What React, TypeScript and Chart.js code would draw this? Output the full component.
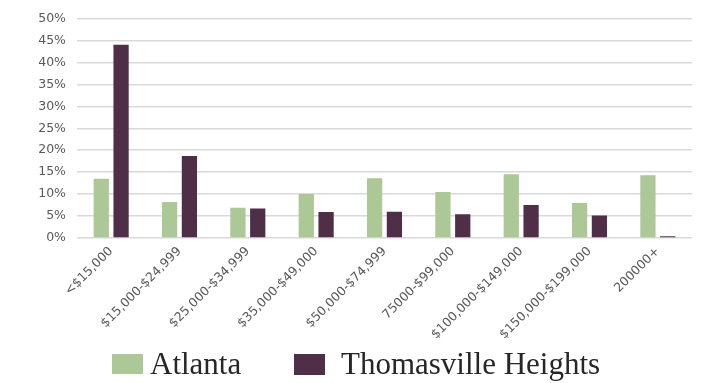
import React, { useEffect, useRef } from "react";
import { Chart, registerables } from "chart.js";

Chart.register(...registerables);

// Household income distribution, share of households per bracket
const incomeBrackets: string[] = [
  "<$15,000",
  "$15,000-$24,999",
  "$25,000-$34,999",
  "$35,000-$49,000",
  "$50,000-$74,999",
  "75000-$99,000",
  "$100,000-$149,000",
  "$150,000-$199,000",
  "200000+",
];

const atlantaShare: number[] = [13.5, 8.2, 6.9, 10.0, 13.6, 10.5, 14.5, 8.0, 14.3];
const thomasvilleShare: number[] = [44.0, 18.7, 6.7, 5.9, 6.0, 5.4, 7.5, 5.1, 0.4];

const yTickMax = 50;
const yTickStep = 5;

const ATLANTA_COLOR = "#abc896";
const THOMASVILLE_COLOR = "#4f2e47";
const TICK_COLOR = "#595959";
const GRID_COLOR = "#d9d9d9";

export default function App() {
  const canvasRef = useRef<HTMLCanvasElement | null>(null);

  useEffect(() => {
    const canvas = canvasRef.current;
    if (!canvas) return;
    const chart = new Chart(canvas, {
      type: "bar",
      data: {
        labels: incomeBrackets,
        datasets: [
          {
            label: "Atlanta",
            data: atlantaShare,
            backgroundColor: ATLANTA_COLOR,
            categoryPercentage: 0.58,
            barPercentage: 0.77,
          },
          {
            label: "Thomasville Heights",
            data: thomasvilleShare,
            backgroundColor: THOMASVILLE_COLOR,
            categoryPercentage: 0.58,
            barPercentage: 0.77,
          },
        ],
      },
      options: {
        responsive: false,
        animation: false,
        layout: { padding: { top: 17, right: 18, bottom: 0, left: 0 } },
        plugins: {
          legend: { display: false },
          tooltip: { enabled: false },
        },
        scales: {
          x: {
            grid: { display: false, drawTicks: false },
            border: { display: false },
            ticks: {
              color: TICK_COLOR,
              font: { family: "DejaVu Sans", size: 12.5 },
              minRotation: 45,
              maxRotation: 45,
              padding: 6,
              autoSkip: false,
            },
            afterFit: (scale: any) => {
              scale.height = 145;
            },
          },
          y: {
            min: 0,
            max: yTickMax,
            grid: { color: GRID_COLOR, lineWidth: 1.5, drawTicks: false },
            border: { display: false },
            ticks: {
              stepSize: yTickStep,
              color: TICK_COLOR,
              font: { family: "DejaVu Sans", size: 12.5 },
              padding: 11,
              callback: (v: any) => `${v}%`,
            },
            afterFit: (scale: any) => {
              scale.width = 77;
            },
          },
        },
      },
    });
    return () => chart.destroy();
  }, []);

  const legendText: React.CSSProperties = {
    position: "absolute",
    fontFamily: "'Liberation Serif', serif",
    fontSize: 31,
    lineHeight: "31px",
    color: "#262626",
    whiteSpace: "nowrap",
  };

  return (
    <div
      style={{
        position: "fixed",
        left: 0,
        top: 0,
        width: 710,
        height: 383,
        background: "#ffffff",
        overflow: "hidden",
      }}
    >
      <canvas ref={canvasRef} width={710} height={383} style={{ display: "block" }} />
      <div
        style={{
          position: "absolute",
          left: 112,
          top: 354,
          width: 31,
          height: 20,
          background: ATLANTA_COLOR,
        }}
      />
      <span style={{ ...legendText, left: 150, top: 348 }}>Atlanta</span>
      <div
        style={{
          position: "absolute",
          left: 294,
          top: 354,
          width: 31,
          height: 21,
          background: THOMASVILLE_COLOR,
        }}
      />
      <span style={{ ...legendText, left: 341, top: 348 }}>Thomasville Heights</span>
    </div>
  );
}
